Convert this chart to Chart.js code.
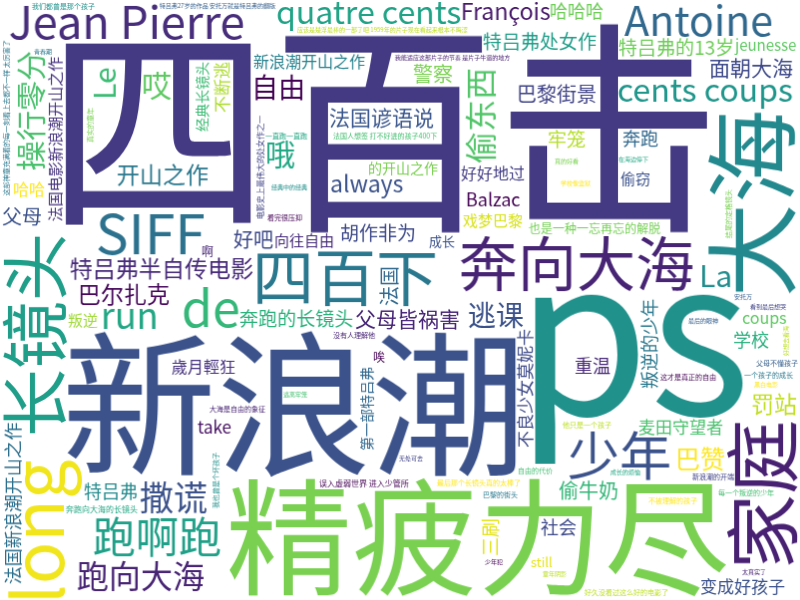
<!DOCTYPE html>
<html lang="zh">
<head>
<meta charset="utf-8">
<title>四百击 词云</title>
<script src="https://cdn.jsdelivr.net/npm/chart.js@4.4.0/dist/chart.umd.min.js"></script>
<style>
  html, body { margin: 0; padding: 0; background: #fff; }
  #cloud { display: block; }
</style>
</head>
<body>
<canvas id="cloud" width="800" height="600"></canvas>
<script>
// 词语（按图中字号从大到小）
const words = [
  '四百击', 'ps', '新浪潮', '精疲力尽', '大海', '家庭', 'long', '长镜头',
  '四百下', '奔向大海', 'SIFF', '少年', 'de', 'Jean Pierre', '跑啊跑', 'Antoine',
  'quatre cents', 'cents coups', 'run', '撒谎', '跑向大海', '偷东西', '操行零分', 'Le',
  'La', '哦', '哎', '逃课', '自由', '巴赞', '罚站', '开山之作',
  '法国新浪潮开山之作', '特吕弗半自传电影', '巴尔扎克', 'always', 'François', '面朝大海', '父母皆祸害', '奔跑的长镜头',
  '法国谚语说', '特吕弗处女作', '巴黎街景', '特吕弗的13岁', '偷牛奶', '警察', '父母', '好吧',
  '法国', '三刷', '法国电影新浪潮开山之作', '胡作非为', '牢笼', '重温', '学校', '特吕弗',
  '社会', '哈哈哈', 'Balzac', '叛逆的少年', '奔跑', '麦田守望者', 'take', '新浪潮开山之作',
  '变成好孩子', '不良少女莫妮卡', '不断逃', '哈哈', 'coups', '歲月輕狂', '好好地过', '戏梦巴黎',
  '向往自由', '也是一种一忘再忘的解脱', '叛逆', '偷窃', 'jeunesse', '经典长镜头', '第一部特吕弗', '的开山之作',
  '成长', 'still', '应该是楚浮最棒的一部了吧 1959年的片子现在看起来根本不晦涩', '啊', '唉',
  '我能适应这部片子的节奏 是片子牛逼的地方',
  '1959年的片子现在看起来根本不晦涩 我能适应这部片子的节奏',
  '这部神童充满着的每一刻看上去都不一样 太厉害了',
  '误入虚弱世界 进入少管所', '法国人想签 打不好进的孩子400下', '特吕弗27岁的作品 安托万就是特吕弗的翻版',
  '最后那个长镜头真的太棒了', '奔跑向大海的长镜头', '电影史上最伟大的处女作之一', '好久没看过这么好的电影了',
  '我们都曾是那个孩子', '大海是自由的象征', '结尾的定格镜头', '一个孩子的成长', '这才是真正的自由',
  '每一个叛逆的少年', '父母不懂孩子', '不被理解的孩子', '一直跑一直跑', '新浪潮的开端', '他只是一个孩子',
  '我也曾是个坏孩子', '没有人理解他', '真实的童年', '巴黎的街头', '看完很压抑', '自由的代价',
  '最后的眼神', '学校像监狱', '在海边停下', '无处可去', '童年阴影', '经典中的经典',
  '太真实了', '真的好看', '青春期', '少年犯', '逃离牢笼', '安托万', '黑白电影', '成长的烦恼',
  '看到最后想哭', '好想去看海'
];

// 相对权重（100 = 最大的词）
const weights = [
  100, 96, 69, 56, 47, 40, 33, 32,
  27.5, 26, 24.5, 23, 22, 20, 19, 18,
  17, 16, 16, 15, 14, 14, 13.3, 13.3,
  13.3, 13.3, 13.3, 12.4, 12, 11, 10.2, 10,
  10, 10, 10, 10, 10, 9.4, 9.4, 9.4,
  9.4, 9.4, 9, 9, 9, 9, 9, 9,
  9, 8.4, 8.4, 8.4, 8.4, 8, 8, 8,
  8, 8, 8, 8, 8, 7.6, 7.6, 7.6,
  7.6, 7.6, 7.6, 7.1, 7.1, 7.1, 7.1, 6.7,
  6.7, 6.7, 6.7, 6.7, 6.7, 6.2, 6.2, 6.2,
  5.8, 5.8, 5.8, 5.3, 5.3,
  4.9,
  4,
  4,
  3.6, 3.6, 3.6,
  3.5, 3.4, 3.4, 3.3,
  3.3, 3.3, 3.2, 3.2, 3.2,
  3.1, 3.1, 3.1, 3.0, 3.0, 3.0,
  3.0, 2.9, 2.9, 2.9, 2.9, 2.9,
  2.8, 2.8, 2.8, 2.8, 2.8, 2.8,
  2.7, 2.7, 2.7, 2.7, 2.7, 2.7, 2.7, 2.7,
  2.7, 2.7
];

// 竖排（逆时针旋转 90°）的词
const verticalWords = [
  '大海', '家庭', 'long', '长镜头', '偷东西', '操行零分', 'Le', '法国新浪潮开山之作',
  '法国', '三刷', '法国电影新浪潮开山之作', '叛逆的少年', '不良少女莫妮卡', '不断逃',
  '经典长镜头', '第一部特吕弗', '电影史上最伟大的处女作之一', '结尾的定格镜头',
  '我也曾是个坏孩子', '真实的童年', '好想去看海', '这部神童充满着的每一刻看上去都不一样 太厉害了'
];

// 颜色（viridis）
const wordColors = {
  '四百击': '#443a83', 'ps': '#21918c', '新浪潮': '#3b528b', '精疲力尽': '#7ad151',
  '大海': '#23898e', '家庭': '#482173', 'long': '#f1e51d', '长镜头': '#1f9e89',
  '四百下': '#2a788e', '奔向大海': '#482475', 'SIFF': '#2c728e', '少年': '#3b528b',
  'de': '#35b779', 'Jean Pierre': '#472d7b', '跑啊跑': '#1fa088', 'Antoine': '#31688e',
  'quatre cents': '#20a386', 'cents coups': '#1f968b', 'run': '#22a785', '撒谎': '#3b528b',
  '跑向大海': '#482475', '偷东西': '#52c569', '操行零分': '#4ac16d', 'Le': '#3dbc74',
  'La': '#228d8d', '哦': '#22a884', '哎': '#5ec962', '逃课': '#3b528b', '自由': '#440154',
  '巴赞': '#fde725', '罚站': '#c2df23', '开山之作': '#2a788e', '法国新浪潮开山之作': '#2d708e',
  '特吕弗半自传电影': '#472a7a', '巴尔扎克': '#46075a', 'always': '#3b528b', 'François': '#48186a',
  '面朝大海': '#3e4989', '父母皆祸害': '#482677', '奔跑的长镜头': '#2db27d', '法国谚语说': '#39568c',
  '特吕弗处女作': '#1f9e89', '巴黎街景': '#414487', '特吕弗的13岁': '#6ece58', '偷牛奶': '#35b779',
  '警察': '#7ad151', '父母': '#3b528b', '好吧': '#3e4a89', '法国': '#31688e', '三刷': '#e5e419',
  '法国电影新浪潮开山之作': '#46337e', '胡作非为': '#3e4a89', '牢笼': '#b5de2b', '重温': '#482878',
  '学校': '#29af7f', '特吕弗': '#238a8d', '社会': '#3e4a89', '哈哈哈': '#6ece58', 'Balzac': '#440154',
  '叛逆的少年': '#2a788e', '奔跑': '#31688e', '麦田守望者': '#4ac16d', 'take': '#471063',
  '新浪潮开山之作': '#26828e', '变成好孩子': '#3b528b', '不良少女莫妮卡': '#3e4a89', '不断逃': '#addc30',
  '哈哈': '#fde725', 'coups': '#5ec962', '歲月輕狂': '#46327e', '好好地过': '#433e85',
  '戏梦巴黎': '#d8e219', '向往自由': '#472c7a', '也是一种一忘再忘的解脱': '#75d054', '叛逆': '#a0da39',
  '偷窃': '#3b528b', 'jeunesse': '#5ec962', '经典长镜头': '#3dbc74', '第一部特吕弗': '#31688e',
  '的开山之作': '#7ad151', '成长': '#3b528b', 'still': '#e5e419', '啊': '#482878', '唉': '#440154',
  '应该是楚浮最棒的一部了吧 1959年的片子现在看起来根本不晦涩': '#c0df25',
  '我能适应这部片子的节奏 是片子牛逼的地方': '#481f70'
};
const viridis = ['#440154', '#482475', '#414487', '#355f8d', '#2a788e', '#21918c',
                 '#22a884', '#44bf70', '#7ad151', '#bddf26', '#fde725'];

const W = 800, H = 600;
const CELL = 2;                  // 占位网格精度（像素）
const GW = W / CELL, GH = H / CELL;
const MAX_FONT = 225;
const MIN_FONT = 5;
const PAD = 1;
const SEED = 19;                 // 布局种子（类似 wordcloud 的 random_state）
const FONT = '"Noto Sans CJK SC", "Noto Sans", sans-serif';

const vertical = new Set(verticalWords);

function colorOf(i) {
  return wordColors[words[i]] || viridis[(i * 7) % viridis.length];
}

// 固定种子的伪随机序列，只用来挑选空位
function mulberry32(a) {
  return function () {
    a |= 0; a = a + 0x6D2B79F5 | 0;
    let t = Math.imul(a ^ a >>> 15, 1 | a);
    t = t + Math.imul(t ^ t >>> 7, 61 | t) ^ t;
    return ((t ^ t >>> 14) >>> 0) / 4294967296;
  };
}

function sprite(i, size) {
  const text = words[i];
  const vert = vertical.has(text);
  const font = size + 'px ' + FONT;
  const m = document.createElement('canvas').getContext('2d');
  m.font = font;
  const tm = m.measureText(text);
  const left = Math.ceil(tm.actualBoundingBoxLeft);
  const right = Math.ceil(tm.actualBoundingBoxRight);
  const asc = Math.ceil(tm.actualBoundingBoxAscent);
  const desc = Math.ceil(tm.actualBoundingBoxDescent);
  const tw = left + right + 2 * PAD, th = asc + desc + 2 * PAD;
  const c = document.createElement('canvas');
  c.width = vert ? th : tw;
  c.height = vert ? tw : th;
  const g = c.getContext('2d', { willReadFrequently: true });
  if (vert) { g.translate(0, tw); g.rotate(-Math.PI / 2); }
  g.font = font;
  g.fillStyle = colorOf(i);
  g.textBaseline = 'alphabetic';
  g.fillText(text, PAD + left, PAD + asc);

  const px = g.getImageData(0, 0, c.width, c.height).data;
  const bw = Math.ceil(c.width / CELL), bh = Math.ceil(c.height / CELL);
  const mark = new Uint8Array(bw * bh);
  for (let y = 0; y < c.height; y++) {
    for (let x = 0; x < c.width; x++) {
      if (px[(y * c.width + x) * 4 + 3] > 40) mark[((y / CELL) | 0) * bw + ((x / CELL) | 0)] = 1;
    }
  }
  const cells = [];
  for (let k = 0; k < mark.length; k++) if (mark[k]) cells.push(k % bw, (k / bw) | 0);
  return { canvas: c, bw, bh, cells };
}

function rebuild(occ, S) {
  const R = GW + 1;
  for (let y = 0; y < GH; y++) {
    let row = 0;
    for (let x = 0; x < GW; x++) {
      row += occ[y * GW + x];
      S[(y + 1) * R + x + 1] = S[y * R + x + 1] + row;
    }
  }
}

// 在所有空位中按比例 f 取一个（行优先顺序）
function findSpot(S, bw, bh, f) {
  const R = GW + 1, maxX = GW - bw, maxY = GH - bh;
  if (maxX < 0 || maxY < 0) return null;
  let count = 0;
  for (let y = 0; y <= maxY; y++) {
    const a = y * R, b = (y + bh) * R;
    for (let x = 0; x <= maxX; x++) {
      if (S[b + x + bw] - S[a + x + bw] - S[b + x] + S[a + x] === 0) count++;
    }
  }
  if (!count) return null;
  let k = Math.floor(f * count);
  for (let y = 0; y <= maxY; y++) {
    const a = y * R, b = (y + bh) * R;
    for (let x = 0; x <= maxX; x++) {
      if (S[b + x + bw] - S[a + x + bw] - S[b + x] + S[a + x] === 0) {
        if (k-- === 0) return { x, y };
      }
    }
  }
  return null;
}

function layout() {
  const order = words.map((w, i) => i).sort((a, b) => weights[b] - weights[a]);
  const rnd = mulberry32(SEED);
  const occ = new Uint8Array(GW * GH);
  const S = new Int32Array((GW + 1) * (GH + 1));
  const placed = [];
  order.forEach(i => {
    const want = Math.max(MIN_FONT, Math.round(MAX_FONT * weights[i] / 100));
    const f = rnd();
    let size = want, spot = null, sp = null;
    while (size >= MIN_FONT) {
      sp = sprite(i, size);
      spot = findSpot(S, sp.bw, sp.bh, f);
      if (spot) break;
      size -= Math.max(1, Math.round(size * 0.06));   // 放不下就缩小字号
    }
    if (!spot) return;
    for (let k = 0; k < sp.cells.length; k += 2) {
      const cx = spot.x + sp.cells[k], cy = spot.y + sp.cells[k + 1];
      if (cx < GW && cy < GH) occ[cy * GW + cx] = 1;
    }
    rebuild(occ, S);
    placed.push({ i, sp, x: spot.x * CELL, y: spot.y * CELL });
  });
  return placed;
}

function draw() {
  const placed = layout();
  const points = placed.map(p => ({
    x: p.x + p.sp.canvas.width / 2,
    y: p.y + p.sp.canvas.height / 2
  }));
  const sprites = placed.map(p => p.sp.canvas);

  new Chart(document.getElementById('cloud'), {
    type: 'scatter',
    data: {
      datasets: [{
        label: '四百击',
        data: points,
        pointStyle: ctx => sprites[ctx.dataIndex] || 'circle',
        pointRadius: 1,
        pointHoverRadius: 1,
        borderWidth: 0,
        backgroundColor: 'rgba(0,0,0,0)'
      }]
    },
    options: {
      responsive: false,
      animation: false,
      events: [],
      layout: { padding: 0 },
      scales: {
        x: { type: 'linear', min: 0, max: W, display: false },
        y: { type: 'linear', min: 0, max: H, reverse: true, display: false }
      },
      plugins: {
        legend: { display: false },
        tooltip: { enabled: false }
      }
    }
  });
}

document.fonts.load('20px "Noto Sans CJK SC"').then(draw, draw);
</script>
</body>
</html>
